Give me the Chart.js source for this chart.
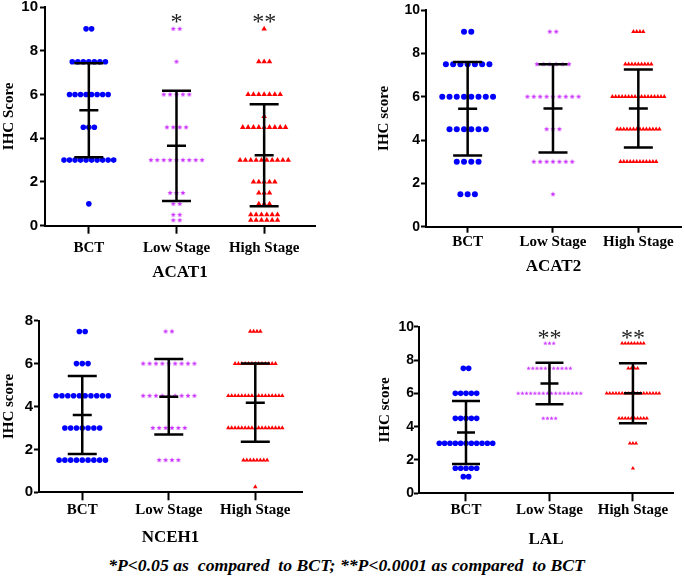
<!DOCTYPE html>
<html>
<head>
<meta charset="utf-8">
<script src="https://cdn.jsdelivr.net/npm/chart.js@4"></script>
<style>
  body { margin: 0; background: #fff; width: 685px; height: 582px; position: relative; overflow: hidden; }
  canvas { position: absolute; }
  #note { position: absolute; left: 4px; top: 555px; width: 685px; text-align: center;
          font: italic bold 17.7px "Liberation Serif"; color: #000; white-space: pre; }
</style>
</head>
<body>
<canvas id="acat1" width="340" height="283" style="left:0;top:0"></canvas>
<canvas id="acat2" width="345" height="277" style="left:340px;top:0"></canvas>
<canvas id="nceh1" width="340" height="248" style="left:0;top:300px"></canvas>
<canvas id="lal" width="345" height="250" style="left:340px;top:300px"></canvas>
<div id="note">*P&lt;0.05 as  compared  to BCT; **P&lt;0.0001 as compared  to BCT</div>
<script>
// ===== DATA (score levels and number of cases at each level) =====
const groups = ['BCT', 'Low Stage', 'High Stage'];

// ACAT1
const acat1BctLevels  = [9, 7.5, 6, 4.5, 3, 1];
const acat1BctCounts  = [2, 7, 8, 3, 10, 1];
const acat1LowLevels  = [9, 7.5, 6, 4.5, 3, 1.5, 1, 0.5, 0.25];
const acat1LowCounts  = [2, 1, 5, 4, 9, 3, 2, 2, 2];
const acat1HighLevels = [9, 7.5, 6, 5, 4.5, 3, 2, 1.5, 1, 0.5, 0.25];
const acat1HighCounts = [1, 3, 7, 1, 9, 10, 5, 3, 3, 6, 6];
const acat1Mean = [5.28, 3.65, 3.22];
const acat1Sd   = [2.15, 2.52, 2.33];
const acat1Sig  = ['', '*', '**'];

// ACAT2
const acat2BctLevels  = [9, 7.5, 6, 4.5, 3, 1.5];
const acat2BctCounts  = [2, 7, 8, 6, 4, 3];
const acat2LowLevels  = [9, 7.5, 6, 4.5, 3, 1.5];
const acat2LowCounts  = [2, 6, 9, 3, 7, 1];
const acat2HighLevels = [9, 7.5, 6, 4.5, 3];
const acat2HighCounts = [4, 9, 17, 14, 12];
const acat2Mean = [5.44, 5.46, 5.46];
const acat2Sd   = [2.16, 2.04, 1.80];
const acat2Sig  = ['', '', ''];

// NCEH1
const nceh1BctLevels  = [7.5, 6, 4.5, 3, 1.5];
const nceh1BctCounts  = [2, 3, 10, 7, 9];
const nceh1LowLevels  = [7.5, 6, 4.5, 3, 1.5];
const nceh1LowCounts  = [2, 9, 9, 6, 4];
const nceh1HighLevels = [7.5, 6, 4.5, 3, 1.5, 0.25];
const nceh1HighCounts = [4, 13, 17, 17, 8, 1];
const nceh1Mean = [3.60, 4.45, 4.18];
const nceh1Sd   = [1.82, 1.76, 1.82];
const nceh1Sig  = ['', '', ''];

// LAL
const lalBctLevels  = [7.5, 6, 4.5, 3, 1.5, 1];
const lalBctCounts  = [2, 5, 5, 11, 5, 2];
const lalLowLevels  = [9, 7.5, 6, 4.5];
const lalLowCounts  = [3, 11, 16, 4];
const lalHighLevels = [9, 7.5, 6, 4.5, 3, 1.5];
const lalHighCounts = [8, 4, 18, 10, 3, 1];
const lalMean = [3.65, 6.59, 6.00];
const lalSd   = [1.89, 1.25, 1.80];
const lalSig  = ['', '**', '**'];

// ===== HELPERS =====
const BLUE = '#0000ff', VIOLET = '#cc33ff', RED = '#ff0000';
const SERIF = 'Liberation Serif', SANS = 'Liberation Sans';

// spread equal scores side by side around the group centre
function swarm(levels, counts, xc, step) {
  const pts = [];
  levels.forEach((v, i) => {
    const n = counts[i];
    for (let k = 0; k < n; k++) pts.push({ x: xc + (k - (n - 1) / 2) * step, y: v });
  });
  return pts;
}

function starImage(r, color) {
  const c = document.createElement('canvas');
  const s = Math.ceil(r * 2) + 2;
  c.width = c.height = s;
  const g = c.getContext('2d');
  g.fillStyle = color;
  g.beginPath();
  for (let i = 0; i < 10; i++) {
    const a = -Math.PI / 2 + i * Math.PI / 5;
    const rr = i % 2 ? r * 0.45 : r;
    g.lineTo(s / 2 + rr * Math.cos(a), s / 2 + rr * Math.sin(a));
  }
  g.closePath();
  g.fill();
  return c;
}

// mean +/- SD bars and significance stars
function errorBars(mean, sd, sig, sigAt, cap, meanCap) {
  return {
    id: 'errorBars',
    afterDatasetsDraw(chart) {
      const { ctx, scales: { x, y } } = chart;
      ctx.save();
      ctx.strokeStyle = '#000';
      ctx.lineWidth = 2.5;
      mean.forEach((m, i) => {
        const px = x.getPixelForValue(i + 1);
        const top = y.getPixelForValue(m + sd[i]);
        const bot = y.getPixelForValue(m - sd[i]);
        const mid = y.getPixelForValue(m);
        ctx.beginPath();
        ctx.moveTo(px, top); ctx.lineTo(px, bot);
        ctx.moveTo(px - cap, top); ctx.lineTo(px + cap, top);
        ctx.moveTo(px - cap, bot); ctx.lineTo(px + cap, bot);
        ctx.moveTo(px - meanCap, mid); ctx.lineTo(px + meanCap, mid);
        ctx.stroke();
      });
      ctx.fillStyle = '#222';
      ctx.font = '24px "' + SERIF + '"';
      ctx.textAlign = 'center';
      ctx.textBaseline = 'alphabetic';
      sig.forEach((s, i) => {
        if (s) ctx.fillText(s, x.getPixelForValue(i + 1), y.getPixelForValue(sigAt) + 11);
      });
      ctx.restore();
    }
  };
}

function panel(id, p) {
  const datasets = [
    { data: swarm(p.levels[0], p.counts[0], 1, p.steps[0]), pointStyle: 'circle', pointRadius: p.radii[0], backgroundColor: BLUE },
    { data: swarm(p.levels[1], p.counts[1], 2, p.steps[1]), pointStyle: starImage(p.radii[1], VIOLET) },
    { data: swarm(p.levels[2], p.counts[2], 3, p.steps[2]), pointStyle: 'triangle', pointRadius: p.radii[2], backgroundColor: RED }
  ].map(d => Object.assign({ borderWidth: 0, showLine: false }, d));

  new Chart(document.getElementById(id), {
    type: 'scatter',
    data: { datasets },
    options: {
      responsive: false,
      animation: false,
      layout: { padding: p.pad },
      plugins: { legend: { display: false }, tooltip: { enabled: false } },
      scales: {
        x: {
          type: 'linear', min: p.xMin, max: p.xMax,
          afterBuildTicks: s => { s.ticks = groups.map((g, i) => ({ value: i + 1 })); },
          afterFit: s => { s.height = p.xHeight; s.paddingLeft = 0; s.paddingRight = 0; },
          ticks: {
            callback: v => groups[v - 1], autoSkip: false, maxRotation: 0,
            padding: p.xTickPad, color: '#000',
            font: { family: SERIF, weight: 'bold', size: 15 }
          },
          grid: { drawOnChartArea: false, drawTicks: true, tickLength: p.xTickLen, tickWidth: 2, tickColor: '#000' },
          border: { display: true, color: '#000', width: 2 },
          title: { display: true, text: p.title, color: '#000', padding: 0,
                   font: { family: SERIF, weight: 'bold', size: 17 } }
        },
        y: {
          min: 0, max: p.yMax,
          afterFit: s => { s.width = p.yWidth; s.paddingTop = 0; s.paddingBottom = 0; },
          ticks: { stepSize: 2, padding: p.yTickPad, color: '#000',
                   font: { family: SANS, weight: 'bold', size: p.yFont } },
          grid: { drawOnChartArea: false, drawTicks: true, tickLength: 5, tickWidth: 2, tickColor: '#000' },
          border: { display: true, color: '#000', width: 2 },
          title: { display: true, text: p.yTitle, color: '#000', padding: 0,
                   font: { family: SERIF, weight: 'bold', size: 15 } }
        }
      }
    },
    plugins: [errorBars(p.mean, p.sd, p.sig, p.sigAt, p.cap, p.meanCap)]
  });
}

// ===== PANELS =====
panel('acat1', {
  title: 'ACAT1', yTitle: 'IHC Score', yMax: 10,
  levels: [acat1BctLevels, acat1LowLevels, acat1HighLevels],
  counts: [acat1BctCounts, acat1LowCounts, acat1HighCounts],
  mean: acat1Mean, sd: acat1Sd, sig: acat1Sig, sigAt: 9.5,
  pad: { left: 0, top: 7, right: 25, bottom: 0 }, yWidth: 45, xHeight: 57.3,
  xMin: 0.5, xMax: 3.58, xTickLen: 8, xTickPad: 5, yTickPad: 2, yFont: 15,
  steps: [0.063, 0.073, 0.061], radii: [2.8, 2.7, 3.2], cap: 14.5, meanCap: 9.5
});

panel('acat2', {
  title: 'ACAT2', yTitle: 'IHC score', yMax: 10,
  levels: [acat2BctLevels, acat2LowLevels, acat2HighLevels],
  counts: [acat2BctCounts, acat2LowCounts, acat2HighCounts],
  mean: acat2Mean, sd: acat2Sd, sig: acat2Sig, sigAt: 9.5,
  pad: { left: 35, top: 10, right: 2, bottom: 0 }, yWidth: 51, xHeight: 50.3,
  xMin: 0.512, xMax: 3.5, xTickLen: 6, xTickPad: 0, yTickPad: 1, yFont: 14,
  steps: [0.085, 0.075, 0.038], radii: [3, 2.7, 2.6], cap: 14.5, meanCap: 9.5
});

panel('nceh1', {
  title: 'NCEH1', yTitle: 'IHC score', yMax: 8,
  levels: [nceh1BctLevels, nceh1LowLevels, nceh1HighLevels],
  counts: [nceh1BctCounts, nceh1LowCounts, nceh1HighCounts],
  mean: nceh1Mean, sd: nceh1Sd, sig: nceh1Sig, sigAt: 7.6,
  pad: { left: 0, top: 20.7, right: 38, bottom: 0 }, yWidth: 39, xHeight: 55.7,
  xMin: 0.5, xMax: 3.54, xTickLen: 8, xTickPad: 1, yTickPad: 1, yFont: 15,
  steps: [0.067, 0.074, 0.039], radii: [2.8, 2.7, 2.6], cap: 14.5, meanCap: 9.5
});

panel('lal', {
  title: 'LAL', yTitle: 'IHC score', yMax: 10,
  levels: [lalBctLevels, lalLowLevels, lalHighLevels],
  counts: [lalBctCounts, lalLowCounts, lalHighCounts],
  mean: lalMean, sd: lalSd, sig: lalSig, sigAt: 9.56,
  pad: { left: 36, top: 26.7, right: 12, bottom: 0 }, yWidth: 43, xHeight: 56.7,
  xMin: 0.437, xMax: 3.48, xTickLen: 8, xTickPad: 0, yTickPad: 0, yFont: 14,
  steps: [0.064, 0.05, 0.037], radii: [2.8, 2.2, 2.4], cap: 14, meanCap: 9
});
</script>
</body>
</html>
